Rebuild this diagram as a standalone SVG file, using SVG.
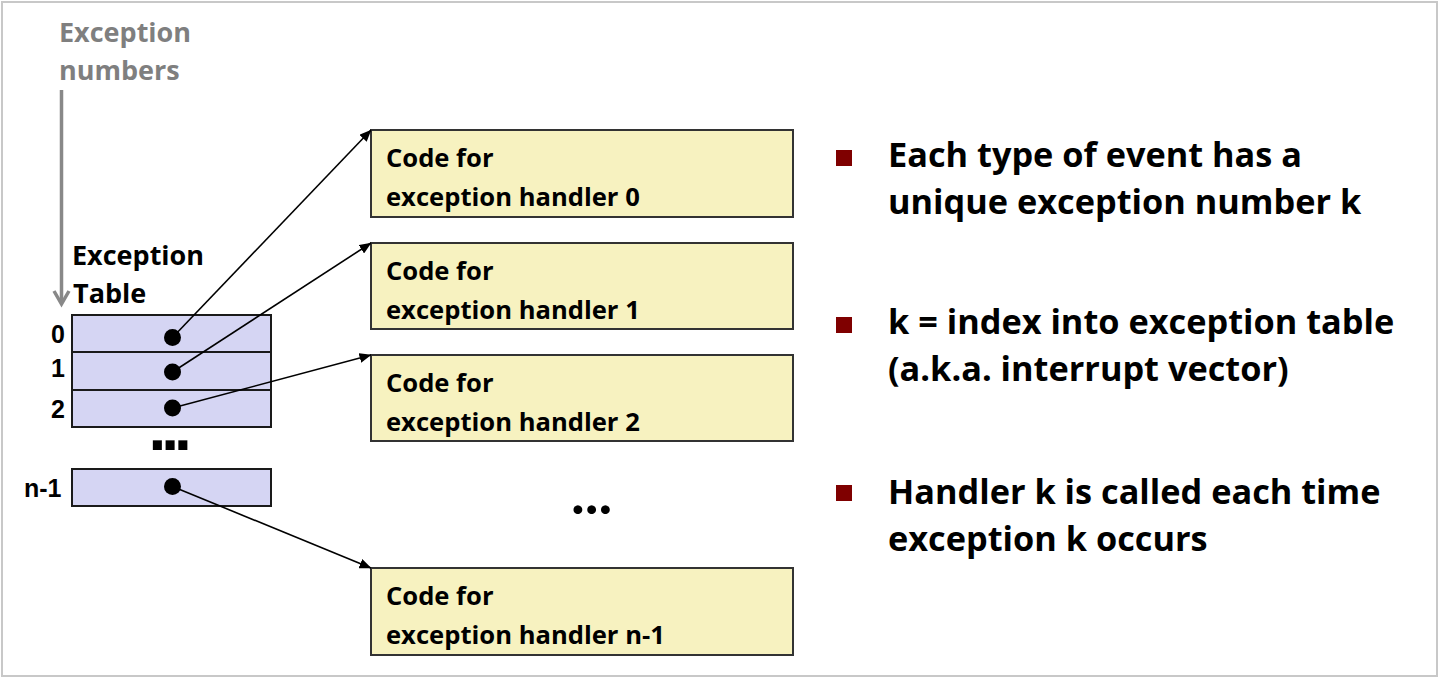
<svg xmlns="http://www.w3.org/2000/svg" width="1440" height="679" viewBox="0 0 1440 679">
  <style>
    .lbl { font-family: "Open Sans", "Liberation Sans", sans-serif; font-weight: 700; fill: #000; }
    .gray { font-family: "Open Sans", "Liberation Sans", sans-serif; font-weight: 700; fill: #7f7f7f; font-size: 27px; }
    .num { font-family: "Liberation Sans", Arial, sans-serif; font-weight: 700; font-size: 25px; fill: #000; }
    .title { font-size: 27px; }
    .code { font-size: 25.6px; }
    .bullet-text { font-size: 34.3px; }
    .row { fill: #d5d5f3; stroke: #1a1a1a; stroke-width: 2; }
    .handler { fill: #f7f2c0; stroke: #333; stroke-width: 2; }
    .ptr { stroke: #000; stroke-width: 1.6; fill: none; }
    .bullet { fill: #7f0000; }
    .ellipsis-sq { font-family: "Liberation Sans", Arial, sans-serif; font-weight: 700; font-size: 64px; letter-spacing: -5px; fill: #000; }
    .ellipsis-rd { font-family: Lato, "Open Sans", sans-serif; font-weight: 700; font-size: 58px; fill: #000; }
  </style>
  <defs>
    <marker id="head" viewBox="0 0 12 10" refX="11.5" refY="5" markerWidth="12" markerHeight="10" markerUnits="userSpaceOnUse" orient="auto">
      <path d="M0,0 L12,5 L0,10 Z" fill="#000"/>
    </marker>
  </defs>

  <!-- frame -->
  <rect x="2" y="2" width="1435" height="674" fill="#fff" stroke="#c8c8c8" stroke-width="2"/>

  <!-- exception number axis -->
  <g id="axis">
    <text class="gray" x="59" y="42">Exception</text>
    <text class="gray" x="59" y="80">numbers</text>
    <line x1="61.5" y1="90" x2="61.5" y2="303" stroke="#888" stroke-width="3.5"/>
    <polyline points="54,291 61.5,304 69,291" fill="none" stroke="#888" stroke-width="3.5" stroke-linejoin="miter"/>
  </g>

  <!-- exception table -->
  <g id="table">
    <text class="lbl title" x="72" y="265">Exception</text>
    <text class="lbl title" x="73" y="303">Table</text>
    <rect class="row" x="72" y="315" width="199" height="37"/>
    <rect class="row" x="72" y="352" width="199" height="38"/>
    <rect class="row" x="72" y="390" width="199" height="37"/>
    <rect class="row" x="72" y="469" width="199" height="37"/>
    <text class="num" x="51" y="343">0</text>
    <text class="num" x="51" y="377">1</text>
    <text class="num" x="51" y="418">2</text>
    <text class="num" x="24" y="497">n-1</text>
    <text class="ellipsis-sq" x="148.5" y="450">...</text>
    <circle cx="172.5" cy="337.5" r="8.5"/>
    <circle cx="172.5" cy="372" r="8.5"/>
    <circle cx="172.5" cy="408" r="8.5"/>
    <circle cx="172.5" cy="486.5" r="8.5"/>
  </g>

  <!-- handler code blocks -->
  <g id="handler0">
    <rect class="handler" x="371" y="130" width="422" height="87"/>
    <text class="lbl code" x="386" y="167">Code for</text>
    <text class="lbl code" x="386" y="206">exception handler 0</text>
  </g>
  <g id="handler1">
    <rect class="handler" x="371" y="243" width="422" height="86"/>
    <text class="lbl code" x="386" y="280">Code for</text>
    <text class="lbl code" x="386" y="319">exception handler 1</text>
  </g>
  <g id="handler2">
    <rect class="handler" x="371" y="355" width="422" height="86"/>
    <text class="lbl code" x="386" y="392">Code for</text>
    <text class="lbl code" x="386" y="431">exception handler 2</text>
  </g>
  <g id="gap">
    <text class="ellipsis-rd" x="571" y="514">...</text>
  </g>
  <g id="handlerN">
    <rect class="handler" x="371" y="568" width="422" height="87"/>
    <text class="lbl code" x="386" y="605">Code for</text>
    <text class="lbl code" x="386" y="644">exception handler n-1</text>
  </g>

  <!-- table entries pointing at their handlers -->
  <g id="connectors">
    <line class="ptr" x1="172.5" y1="337.5" x2="371" y2="130" marker-end="url(#head)"/>
    <line class="ptr" x1="172.5" y1="372" x2="371" y2="243" marker-end="url(#head)"/>
    <line class="ptr" x1="172.5" y1="408" x2="371" y2="355" marker-end="url(#head)"/>
    <line class="ptr" x1="172.5" y1="486.5" x2="371" y2="568" marker-end="url(#head)"/>
  </g>

  <!-- notes -->
  <g id="notes">
    <rect class="bullet" x="836" y="150" width="16" height="16"/>
    <text class="lbl bullet-text" x="888" y="167">Each type of event has a</text>
    <text class="lbl bullet-text" x="888" y="214">unique exception number k</text>
    <rect class="bullet" x="836" y="317" width="16" height="16"/>
    <text class="lbl bullet-text" x="888" y="334">k = index into exception table</text>
    <text class="lbl bullet-text" x="888" y="381">(a.k.a. interrupt vector)</text>
    <rect class="bullet" x="836" y="485" width="16" height="16"/>
    <text class="lbl bullet-text" x="888" y="504">Handler k is called each time</text>
    <text class="lbl bullet-text" x="888" y="551">exception k occurs</text>
  </g>
</svg>
